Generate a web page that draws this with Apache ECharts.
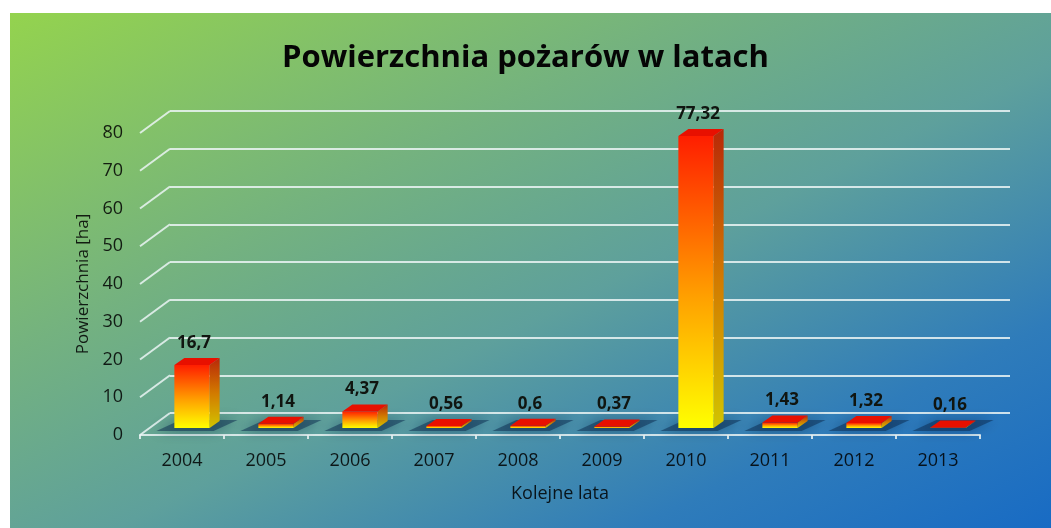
<!DOCTYPE html>
<html>
<head>
<meta charset="utf-8">
<script src="https://cdn.jsdelivr.net/npm/echarts@6/dist/echarts.min.js"></script>
<style>
  html, body { margin: 0; padding: 0; background: #ffffff; }
  #bg {
    position: absolute; left: 10px; top: 13px; width: 1041px; height: 515px;
    background: linear-gradient(to bottom right, #94d34e 0%, #74b27f 33%, #5ea09c 55%, #2f7cba 80%, #186bc4 100%);
  }
  #chart { position: absolute; left: 0; top: 0; width: 1051px; height: 528px; }
</style>
</head>
<body>
<div id="bg"></div>
<div id="chart"></div>
<script>
// Burned area per year (hectares)
const years = ['2004', '2005', '2006', '2007', '2008', '2009', '2010', '2011', '2012', '2013'];
const areaHa = [16.7, 1.14, 4.37, 0.56, 0.6, 0.37, 77.32, 1.43, 1.32, 0.16];
const yTicks = [0, 10, 20, 30, 40, 50, 60, 70, 80];

const FONT = '"Open Sans", Lato, sans-serif';
const TEXT = 'rgba(0,0,0,0.85)';
const GRID_LINE = 'rgba(235,245,245,0.85)';

// depth offset of the floor (pseudo-3D)
const WALL_DX = 30, WALL_DY = 22;
// bar depth
const BAR_DX = 10, BAR_DY = 7;

const chart = echarts.init(document.getElementById('chart'), null, { renderer: 'canvas' });

function gradient(stops) {
  return new echarts.graphic.LinearGradient(0, 1, 0, 0, stops);
}

const option = {
  backgroundColor: 'transparent',
  animation: false,
  title: {
    text: 'Powierzchnia pożarów w latach',
    left: 'center',
    top: 38,
    textStyle: { fontFamily: FONT, fontWeight: 'bold', fontSize: 31, color: '#050505' }
  },
  grid: [
    // back wall
    { left: 170, right: 41, top: 111, bottom: 115 },
    // front edge (axis labels)
    { left: 140, right: 71, top: 133, bottom: 93 },
    // bar plane
    { left: 150, right: 61, top: 126, bottom: 100 }
  ],
  xAxis: [
    { gridIndex: 0, type: 'category', data: years, show: false },
    {
      gridIndex: 1, type: 'category', data: years,
      axisLine: { lineStyle: { color: GRID_LINE, width: 2 } },
      axisTick: { show: true, length: 4, lineStyle: { color: GRID_LINE, width: 2 } },
      axisLabel: { color: TEXT, fontFamily: FONT, fontSize: 18, margin: 17 },
      name: 'Kolejne lata', nameLocation: 'middle', nameGap: 50,
      nameTextStyle: { color: TEXT, fontFamily: FONT, fontSize: 18 }
    },
    { gridIndex: 2, type: 'category', data: years, show: false }
  ],
  yAxis: [
    {
      gridIndex: 0, type: 'value', min: 0, max: 80, interval: 10,
      axisLine: { show: false }, axisTick: { show: false }, axisLabel: { show: false },
      splitLine: { show: true, lineStyle: { color: GRID_LINE, width: 2 } }
    },
    {
      gridIndex: 1, type: 'value', min: 0, max: 80, interval: 10,
      axisLine: { show: false }, axisTick: { show: false },
      splitLine: { show: false },
      axisLabel: { color: TEXT, fontFamily: FONT, fontSize: 18, margin: 17 },
      name: 'Powierzchnia [ha]', nameLocation: 'middle', nameRotate: 90, nameGap: 48,
      nameTextStyle: { color: TEXT, fontFamily: FONT, fontSize: 17 }
    },
    { gridIndex: 2, type: 'value', min: 0, max: 80, interval: 10, show: false }
  ],
  series: [
    {
      // slanted side of each gridline, running from the back wall to the front edge
      type: 'custom',
      xAxisIndex: 0, yAxisIndex: 0,
      data: yTicks.map(v => [0, v]),
      silent: true,
      renderItem: function (params, api) {
        const y = api.coord([0, api.value(1)])[1];
        const x = params.coordSys.x;
        return {
          type: 'line',
          shape: { x1: x, y1: y, x2: x - WALL_DX, y2: y + WALL_DY },
          style: { stroke: GRID_LINE, lineWidth: 2 }
        };
      }
    },
    {
      type: 'custom',
      xAxisIndex: 2, yAxisIndex: 2,
      data: areaHa.map((v, i) => [i, v]),
      encode: { x: 0, y: 1 },
      silent: true,
      renderItem: function (params, api) {
        const i = api.value(0), v = api.value(1);
        const base = api.coord([i, 0]);
        const top = api.coord([i, v]);
        const band = api.size([1, 0])[0];
        const w = band * 0.42;
        const x0 = base[0] - w / 2, x1 = base[0] + w / 2;
        const yb = base[1], yt = top[1];
        const h = Math.max(yb - yt, 0.6);
        return {
          type: 'group',
          children: [
            {
              // shadow on the floor
              type: 'polygon',
              shape: { points: [
                [x0 - 18, yb + 3], [x1 + 4, yb + 3],
                [x1 + BAR_DX + 18, yb - BAR_DY - 1], [x0 + BAR_DX - 4, yb - BAR_DY - 1]
              ] },
              style: { fill: 'rgba(10,40,75,0.5)', shadowBlur: 12, shadowColor: 'rgba(10,40,75,0.85)' }
            },
            {
              // side face
              type: 'polygon',
              shape: { points: [
                [x1, yb], [x1, yb - h], [x1 + BAR_DX, yb - h - BAR_DY], [x1 + BAR_DX, yb - BAR_DY]
              ] },
              style: { fill: gradient([
                { offset: 0, color: '#d2c400' },
                { offset: 0.5, color: '#d27a00' },
                { offset: 1, color: '#b82808' }
              ]) }
            },
            {
              // front face
              type: 'rect',
              shape: { x: x0, y: yb - h, width: w, height: h },
              style: { fill: gradient([
                { offset: 0, color: '#ffff00' },
                { offset: 0.45, color: '#ffa000' },
                { offset: 1, color: '#ff1e00' }
              ]) }
            },
            {
              // top face
              type: 'polygon',
              shape: { points: [
                [x0, yb - h], [x1, yb - h], [x1 + BAR_DX, yb - h - BAR_DY], [x0 + BAR_DX, yb - h - BAR_DY]
              ] },
              style: { fill: '#e81000' }
            },
            {
              type: 'text',
              style: {
                x: base[0] + 2, y: yb - h - BAR_DY - 15,
                text: String(v).replace('.', ','),
                align: 'center', verticalAlign: 'middle',
                fill: '#101510', font: 'bold 17px ' + FONT
              }
            }
          ]
        };
      }
    }
  ]
};

chart.setOption(option);
</script>
</body>
</html>
